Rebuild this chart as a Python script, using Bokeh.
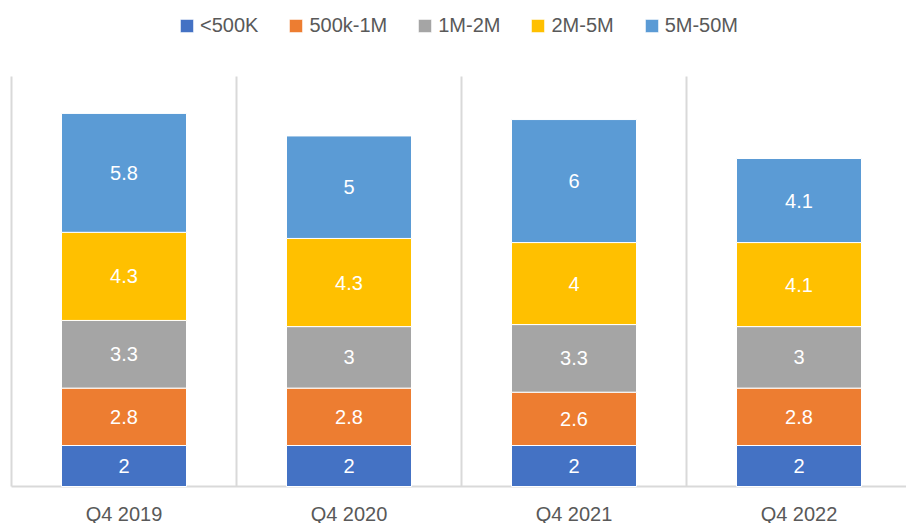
from bokeh.plotting import figure
from bokeh.models import Range1d, ColumnDataSource, Legend, LegendItem
from bokeh.core.properties import value
from bokeh.embed import file_html
from bokeh.resources import INLINE

categories = ["Q4 2019", "Q4 2020", "Q4 2021", "Q4 2022"]
series_names = ["<500K", "500k-1M", "1M-2M", "2M-5M", "5M-50M"]
s_lt500k = [2, 2, 2, 2]
s_500k_1m = [2.8, 2.8, 2.6, 2.8]
s_1m_2m = [3.3, 3.0, 3.3, 3.0]
s_2m_5m = [4.3, 4.3, 4.0, 4.1]
s_5m_50m = [5.8, 5.0, 6.0, 4.1]
colors = ["#4472C4", "#ED7D31", "#A5A5A5", "#FFC000", "#5B9BD5"]

series = [s_lt500k, s_500k_1m, s_1m_2m, s_2m_5m, s_5m_50m]
n = len(categories)
xs = [i + 0.5 for i in range(n)]
keys = ["s0", "s1", "s2", "s3", "s4"]
data = {"x": xs}
for k, s in zip(keys, series):
    data[k] = s
source = ColumnDataSource(data)

FONT = "Liberation Sans"
GREY = "#595959"
W, H = 906, 523
LEFT = 11          # pixel position of the first separator
STEP = 225         # pixels per category
BOTTOM = 486       # pixel y of the baseline
YMAX = 20          # value at the top of the separators
PX = 410 / YMAX    # pixels per unit

p = figure(width=W, height=H, output_backend="svg", toolbar_location=None,
           x_range=Range1d(-LEFT / STEP, (W - LEFT) / STEP),
           y_range=Range1d(-(H - BOTTOM) / PX, BOTTOM / PX),
           min_border=0)
p.outline_line_color = None
p.background_fill_color = "white"
p.border_fill_color = "white"
p.xaxis.visible = False
p.yaxis.visible = False
p.grid.visible = False

# category separators and baseline
sep = list(range(n + 1))
p.segment(x0=sep, y0=[0] * len(sep), x1=sep, y1=[YMAX] * len(sep),
          line_color="#d9d9d9", line_width=2)
p.segment(x0=[0], y0=[0], x1=[n + 1], y1=[0], line_color="#d9d9d9", line_width=2)

renderers = p.vbar_stack(keys, x="x", width=125 / STEP, source=source, color=colors,
                         line_color="white", line_width=1)

# value labels
lx, ly, lt = [], [], []
for i, x in enumerate(xs):
    base = 0.0
    for s in series:
        v = s[i]
        lx.append(x)
        ly.append(base + v / 2)
        lt.append(f"{v:g}")
        base += v
p.text(x=lx, y=ly, text=lt, text_color="white", text_align="center",
       text_baseline="middle", text_font=value(FONT), text_font_size="20px")

# category labels
p.text(x=xs, y=[-27 / PX] * n, text=categories, text_color=GREY, text_align="center",
       text_baseline="middle", text_font=value(FONT), text_font_size="20px")

legend = Legend(items=[LegendItem(label=nm, renderers=[r]) for nm, r in zip(series_names, renderers)],
                orientation="horizontal", location=(178, 486),
                glyph_width=17, glyph_height=17, label_standoff=5, spacing=29,
                padding=0, margin=0, border_line_color=None, background_fill_alpha=0,
                label_text_font=FONT, label_text_font_size="20px", label_text_color=GREY,
                label_height=20)
p.add_layout(legend, "center")

open("out.html", "w").write(file_html(p, INLINE))
